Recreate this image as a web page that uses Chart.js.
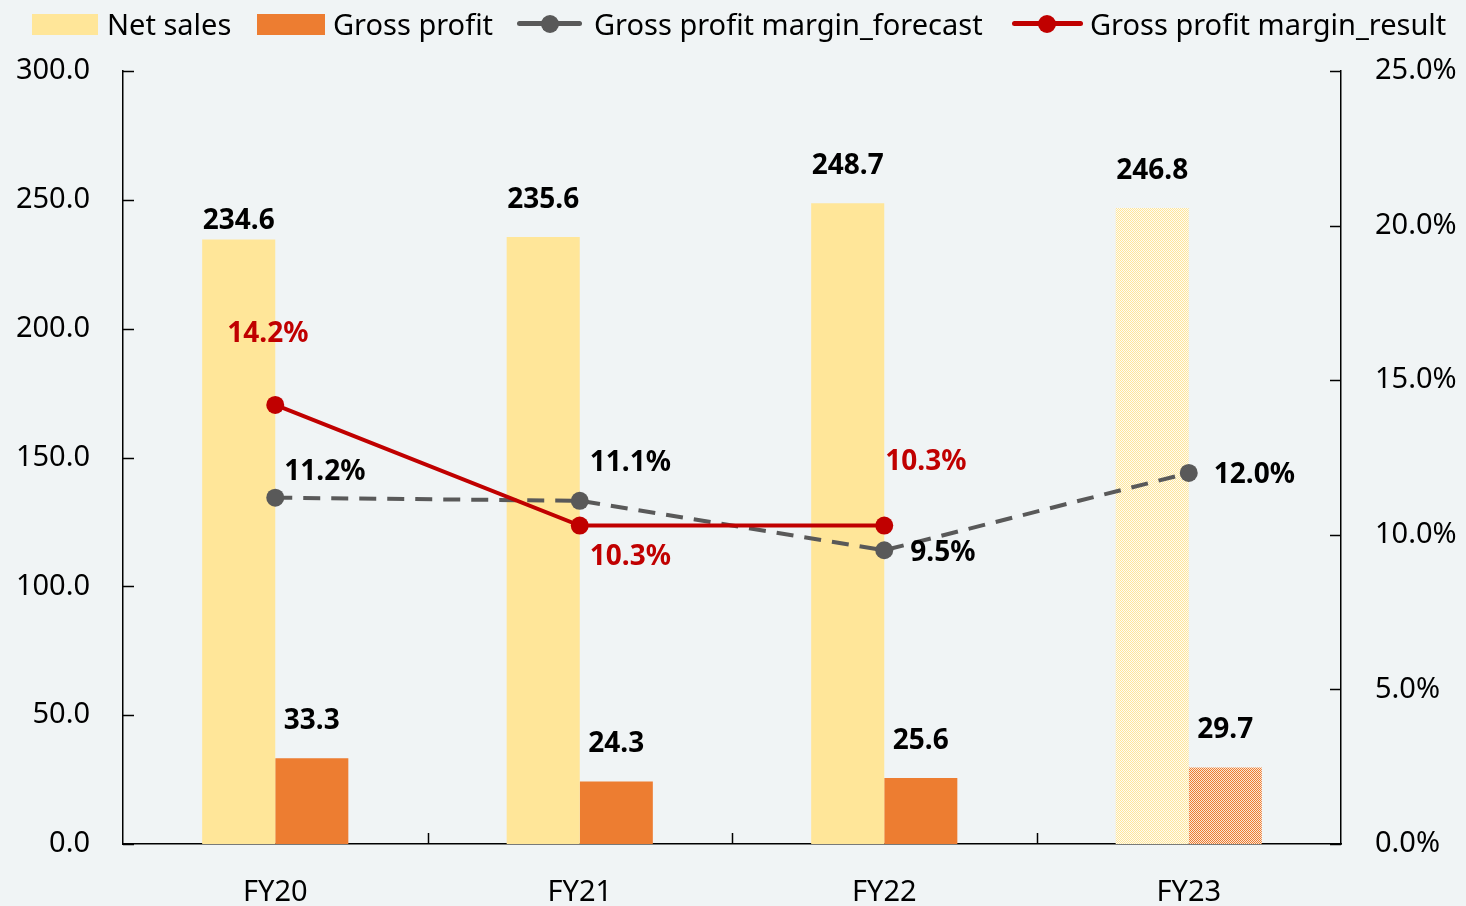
<!DOCTYPE html>
<html><head><meta charset="utf-8">
<script src="https://cdn.jsdelivr.net/npm/chart.js@4/dist/chart.umd.min.js"></script>
<style>
html,body{margin:0;padding:0;background:#F0F4F5;}
#wrap{position:relative;width:1466px;height:906px;overflow:hidden;}
canvas{position:absolute;left:0;top:0;}
.lg{position:absolute;top:0;height:48px;line-height:48px;font-family:"Noto Sans",sans-serif;font-size:29px;color:#000;white-space:nowrap;}
.box{position:absolute;top:14px;height:21px;}
.ln{position:absolute;top:21px;height:5px;border-radius:3px;}
.dot{position:absolute;top:15px;width:18px;height:18px;border-radius:50%;}
</style></head>
<body><div id="wrap">
<canvas id="c" width="1466" height="906"></canvas>
<div class="box" style="left:32px;width:66px;background:#FFE699"></div>
<div class="lg" style="left:107px">Net sales</div>
<div class="box" style="left:257px;width:68px;background:#ED7D31"></div>
<div class="lg" style="left:333px">Gross profit</div>
<div class="ln" style="left:517px;width:65px;background:#595959"></div>
<div class="dot" style="left:541px;background:#595959"></div>
<div class="lg" style="left:594px">Gross profit margin_forecast</div>
<div class="ln" style="left:1012px;width:71px;background:#C00000"></div>
<div class="dot" style="left:1038px;background:#C00000"></div>
<div class="lg" style="left:1090px">Gross profit margin_result</div>
</div>
<script>
const categories = ['FY20','FY21','FY22','FY23'];
const netSales = [234.6, 235.6, 248.7, 246.8];
const grossProfit = [33.3, 24.3, 25.6, 29.7];
const marginForecast = [11.2, 11.1, 9.5, 12.0];
const marginResult = [14.2, 10.3, 10.3, null];
const leftTickValues = [0, 50, 100, 150, 200, 250, 300];
const rightTickValues = [0, 5, 10, 15, 20, 25];

const FONT = '"Noto Sans", sans-serif';
const ctx = document.getElementById('c').getContext('2d');

function makePattern(color, bg) {
  const p = document.createElement('canvas');
  p.width = 2; p.height = 2;
  const x = p.getContext('2d');
  x.fillStyle = bg; x.fillRect(0, 0, 2, 2);
  x.fillStyle = color; x.fillRect(0, 0, 1, 1); x.fillRect(1, 1, 1, 1);
  return ctx.createPattern(p, 'repeat');
}
const yellow = '#FFE699', orange = '#ED7D31';
const yellowPat = makePattern(yellow, '#FDFBF4');
const orangePat = makePattern(orange, '#FAE6D8');

// label styling (offsets relative to the drawn element)
const labelStyle = [
  {color:'#000', align:'center', off:[[0,-18],[0,-37],[0,-37],[0,-37]], fmt:v=>v.toFixed(1)},
  {color:'#000', align:'center', off:[[0,-37],[0,-37],[0,-37],[0,-37]], fmt:v=>v.toFixed(1)},
  {color:'#000', align:'left', off:[[9,-26],[10,-38],[26,3],[25,2]], fmt:v=>v.toFixed(1)+'%'},
  {color:'#C00000', align:'left', off:[[-48,-71],[10,32],[1,-63]], fmt:v=>v.toFixed(1)+'%'}
];

const labelPlugin = {
  id: 'labels',
  afterDatasetsDraw(chart) {
    const c = chart.ctx;
    c.save();
    c.font = 'bold 28px ' + FONT;
    c.textBaseline = 'middle';
    chart.data.datasets.forEach((ds, di) => {
      const st = labelStyle[di];
      const meta = chart.getDatasetMeta(di);
      meta.data.forEach((el, i) => {
        const v = ds.data[i];
        if (v === null || v === undefined) return;
        const o = st.off[i];
        c.fillStyle = st.color;
        c.textAlign = st.align;
        c.fillText(st.fmt(v), el.x + o[0], el.y + o[1]);
      });
    });
    c.restore();
  }
};

const tickPlugin = {
  id: 'innerTicks',
  afterDraw(chart) {
    const c = chart.ctx, a = chart.chartArea;
    const y = chart.scales.y, y1 = chart.scales.y1, x = chart.scales.x;
    c.save();
    c.strokeStyle = '#000';
    c.lineWidth = 1.5;
    c.beginPath();
    leftTickValues.forEach(v => { const p = Math.round(y.getPixelForValue(v)) + 0.5; c.moveTo(a.left, p); c.lineTo(a.left + 11, p); });
    rightTickValues.forEach(v => { const p = Math.round(y1.getPixelForValue(v)) + 0.5; c.moveTo(a.right, p); c.lineTo(a.right - 11, p); });
    for (let i = 1; i < categories.length; i++) {
      const p = Math.round((x.getPixelForValue(i - 1) + x.getPixelForValue(i)) / 2) + 0.5;
      c.moveTo(p, a.bottom); c.lineTo(p, a.bottom - 11);
    }
    c.stroke();
    c.restore();
  }
};

new Chart(ctx, {
  data: {
    labels: categories,
    datasets: [
      {type:'bar', label:'Net sales', data:netSales, yAxisID:'y', order:2,
       backgroundColor:[yellow, yellow, yellow, yellowPat],
       categoryPercentage:0.48, barPercentage:1},
      {type:'bar', label:'Gross profit', data:grossProfit, yAxisID:'y', order:2,
       backgroundColor:[orange, orange, orange, orangePat],
       categoryPercentage:0.48, barPercentage:1},
      {type:'line', label:'Gross profit margin_forecast', data:marginForecast, yAxisID:'y1', order:1,
       borderColor:'#595959', backgroundColor:'#595959', borderWidth:4, borderDash:[17,11],
       pointRadius:9, pointBorderWidth:0, pointBackgroundColor:'#595959', tension:0},
      {type:'line', label:'Gross profit margin_result', data:marginResult, yAxisID:'y1', order:0,
       borderColor:'#C00000', backgroundColor:'#C00000', borderWidth:4,
       pointRadius:9, pointBorderWidth:0, pointBackgroundColor:'#C00000', tension:0}
    ]
  },
  options: {
    responsive:false, animation:false, devicePixelRatio:1,
    layout:{padding:{top:71, bottom:0, left:0, right:0}},
    plugins:{legend:{display:false}, tooltip:{enabled:false}},
    scales:{
      x:{offset:true, grid:{display:false, drawTicks:false}, border:{display:true, color:'#000', width:1.5},
         ticks:{color:'#000', font:{family:FONT, size:29}, padding:31},
         afterFit(s){ s.height = 62; }},
      y:{position:'left', min:0, max:300, grid:{display:false, drawTicks:false},
         border:{display:true, color:'#000', width:1.5},
         afterBuildTicks(s){ s.ticks = leftTickValues.map(v=>({value:v})); },
         ticks:{color:'#000', font:{family:FONT, size:29}, padding:33, callback:v=>Number(v).toFixed(1)},
         afterFit(s){ s.width = 123; }},
      y1:{position:'right', min:0, max:25, grid:{display:false, drawTicks:false},
         border:{display:true, color:'#000', width:1.5},
         afterBuildTicks(s){ s.ticks = rightTickValues.map(v=>({value:v})); },
         ticks:{color:'#000', font:{family:FONT, size:29}, padding:34, callback:v=>Number(v).toFixed(1)+'%'},
         afterFit(s){ s.width = 125; }}
    }
  },
  plugins:[labelPlugin, tickPlugin]
});
</script>
</body></html>
